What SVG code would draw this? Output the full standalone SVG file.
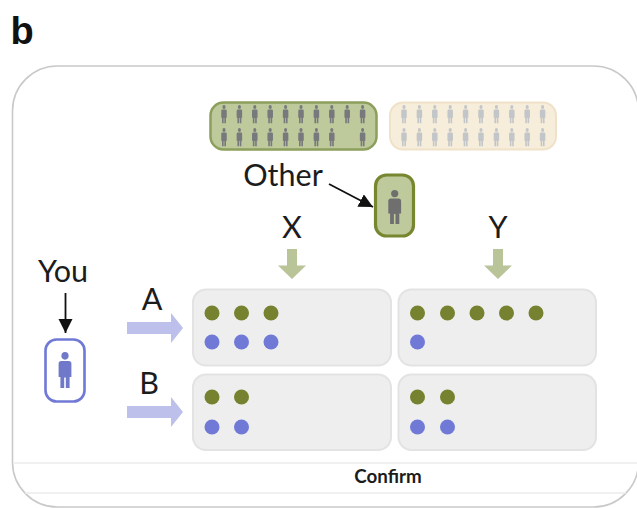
<svg xmlns="http://www.w3.org/2000/svg" width="637" height="508" viewBox="0 0 637 508">
<style>
text{font-family:"Lato","Open Sans","Liberation Sans",sans-serif;fill:#1c1c1c;text-anchor:middle}
.lbl{font-size:30.500px}
.cell{fill:#eeeeee;stroke:#e3e3e3;stroke-width:2}
.o{fill:#76822f}
.p{fill:#7079d6}
.garrow{fill:#b9c498}
.parrow{fill:#bcc0ea}
.conn{stroke:#111;stroke-width:1.8;fill:none}
.sep{stroke:#ececec;stroke-width:1.5;fill:none}
</style>
<defs>
<filter id="soft" x="-5%" y="-5%" width="110%" height="110%"><feGaussianBlur stdDeviation="0.5"/></filter>
<g id="person">
<circle cx="0" cy="3.6" r="3.6"/>
<path d="M-6.400 11Q-6.400 8.400-3.800 8.400H3.800Q6.400 8.400 6.400 11V23.500H4.600V34H0.800V24H-0.800V34H-4.600V23.500H-6.400Z"/>
</g>
<g id="mini">
<use href="#person" transform="scale(.43,.54)"/>
</g>
<g id="row10">
<use href="#mini" x="0"/>
<use href="#mini" x="15.400"/>
<use href="#mini" x="30.800"/>
<use href="#mini" x="46.200"/>
<use href="#mini" x="61.600"/>
<use href="#mini" x="77"/>
<use href="#mini" x="92.400"/>
<use href="#mini" x="107.800"/>
<use href="#mini" x="123.200"/>
<use href="#mini" x="138.600"/>
</g>
<marker id="blk" markerUnits="userSpaceOnUse" markerWidth="16" markerHeight="16" refX="14" refY="7" orient="auto"><path d="M0 0L14 7L0 14Z" fill="#111"/></marker>
</defs>
<rect width="637" height="508" fill="#fff"/>
<g id="panel">
<rect x="12.500" y="66" width="626" height="441" rx="45" fill="#fff" stroke="#c9c9c9" stroke-width="1.600"/>
<path class="sep" d="M13 463H637M25 493H626"/>
</g>
<text x="22" y="44" style="font-size:38px;font-weight:700;fill:#111;font-family:'Liberation Sans',sans-serif">b</text>
<g id="pool-green" filter="url(#soft)">
<rect x="210.500" y="102.500" width="166" height="47" rx="13" fill="#bec99c" stroke="#8d9f5c" stroke-width="2.500"/>
<g fill="#77797c">
<use href="#row10" x="224" y="105"/>
<use href="#mini" x="224" y="128"/>
<use href="#mini" x="239.400" y="128"/>
<use href="#mini" x="254.800" y="128"/>
<use href="#mini" x="270.200" y="128"/>
<use href="#mini" x="285.600" y="128"/>
<use href="#mini" x="301" y="128"/>
<use href="#mini" x="316.400" y="128"/>
<use href="#mini" x="331.800" y="128"/>
<use href="#mini" x="362.600" y="128"/>
</g>
</g>
<g id="pool-cream" filter="url(#soft)">
<rect x="390" y="102.500" width="166" height="47" rx="13" fill="#f7eddb" stroke="#efe2c8" stroke-width="2"/>
<g fill="#c3c6c8">
<use href="#row10" x="404" y="105"/>
<use href="#row10" x="404" y="128"/>
</g>
</g>
<g id="node-other">
<rect x="375.500" y="175" width="38" height="61" rx="11" fill="#bec99c" stroke="#76872f" stroke-width="3.200"/>
<use href="#person" x="394.700" y="190" fill="#6f6f70"/>
</g>
<text class="lbl" x="283" y="186">Other</text>
<text class="lbl" x="292" y="238">X</text>
<text class="lbl" x="498" y="238">Y</text>
<text class="lbl" x="63" y="282">You</text>
<text class="lbl" x="152" y="310">A</text>
<text class="lbl" x="149" y="394">B</text>
<g id="node-you">
<rect x="45.500" y="339.500" width="39" height="62" rx="11" fill="#fff" stroke="#7079d6" stroke-width="2.600"/>
<use href="#person" transform="translate(65,352) scale(1,1.06)" fill="#6f78c9"/>
</g>
<g id="cell-ax">
<rect class="cell" x="193" y="289.500" width="198" height="76" rx="13"/>
<circle class="o" cx="212" cy="313" r="7.500"/><circle class="o" cx="241.500" cy="313" r="7.500"/><circle class="o" cx="271" cy="313" r="7.500"/>
<circle class="p" cx="212" cy="342" r="7.500"/><circle class="p" cx="241.500" cy="342" r="7.500"/><circle class="p" cx="271" cy="342" r="7.500"/>
</g>
<g id="cell-ay">
<rect class="cell" x="398.500" y="289.500" width="197.500" height="76" rx="13"/>
<circle class="o" cx="417.500" cy="313" r="7.500"/><circle class="o" cx="447.500" cy="313" r="7.500"/><circle class="o" cx="477" cy="313" r="7.500"/><circle class="o" cx="506.500" cy="313" r="7.500"/><circle class="o" cx="536" cy="313" r="7.500"/>
<circle class="p" cx="417.500" cy="342" r="7.500"/>
</g>
<g id="cell-bx">
<rect class="cell" x="193" y="374.500" width="198" height="75.500" rx="13"/>
<circle class="o" cx="212" cy="397" r="7.500"/><circle class="o" cx="241.500" cy="397" r="7.500"/>
<circle class="p" cx="212" cy="427" r="7.500"/><circle class="p" cx="241.500" cy="427" r="7.500"/>
</g>
<g id="cell-by">
<rect class="cell" x="398.500" y="374.500" width="197.500" height="75.500" rx="13"/>
<circle class="o" cx="417.500" cy="397" r="7.500"/><circle class="o" cx="447.500" cy="397" r="7.500"/>
<circle class="p" cx="417.500" cy="427" r="7.500"/><circle class="p" cx="447.500" cy="427" r="7.500"/>
</g>
<g id="connectors">
<path class="conn" d="M329 184L373 207" marker-end="url(#blk)"/>
<path class="conn" d="M65.500 293V333" marker-end="url(#blk)"/>
<path class="garrow" d="M287 249H297V265.500H306L292 279L278 265.500H287Z"/>
<path class="garrow" d="M493 249H503V265.500H512L498 279L484 265.500H493Z"/>
<path class="parrow" d="M127 322H171V313L183 328L171 343V334H127Z"/>
<path class="parrow" d="M127 406H171V397L183 412L171 427V418H127Z"/>
</g>
<text x="388" y="483" style="font-size:18.800px;font-weight:700">Confirm</text>
</svg>
